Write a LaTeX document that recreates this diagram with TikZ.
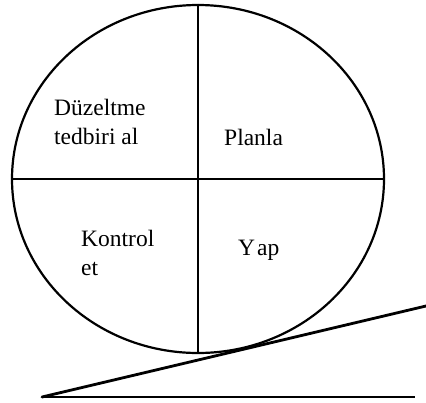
\documentclass[tikz,border=0pt]{standalone}
\usepackage{fontspec}
\setmainfont{Liberation Serif}
\usetikzlibrary{shapes.geometric, positioning}
\tikzset{
  wheel/.style={ellipse, draw=black, line width=2.2pt, inner sep=0pt, minimum width=372pt, minimum height=348pt},
  divider/.style={line width=2.2pt},
  phase/.style={anchor=base west, inner sep=0pt, align=left, font=\fontsize{23.5}{29}\selectfont},
  ramp/.style={line width=2.8pt, line cap=round},
  ground/.style={line width=2pt}
}
\begin{document}
\begin{tikzpicture}[x=1pt, y=-1pt]
    \useasboundingbox (0,0) rectangle (426,402);

    % Tekerlek
    \node (wheel) [wheel] at (198,179) {};
    \draw [divider] (wheel.north) -- (wheel.south);
    \draw [divider] (wheel.west) -- (wheel.east);

    % Evreler
    \node (act) [phase] at (54,144) {D\"uzeltme\\tedbiri al};
    \node (plan) [phase] at (224,145) {Planla};
    \node (check) [phase] at (81,275) {Kontrol\\et};
    \node (do) [phase] at (238,255) {Y\kern2pt ap};

    % Rampa
    \coordinate (foot) at (42,397);
    \coordinate (top) at (426,306);
    \coordinate (end) at (415,397);
    \draw [ramp] (foot) -- (top);
    \draw [ground] (foot) -- (end);

\end{tikzpicture}
\end{document}
